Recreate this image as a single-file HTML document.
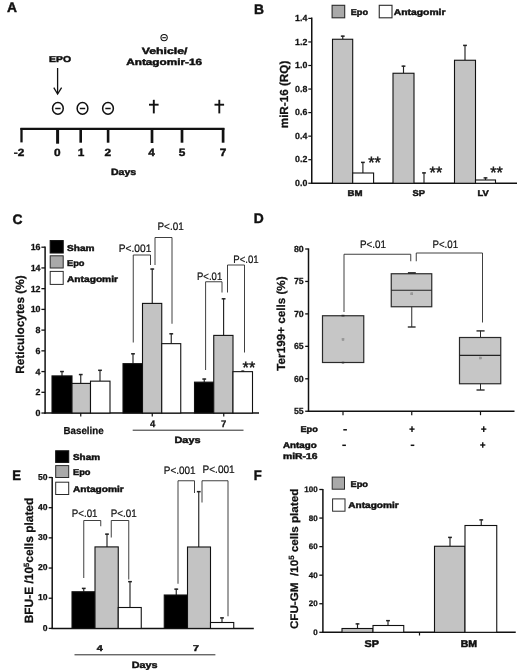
<!DOCTYPE html>
<html><head><meta charset="utf-8"><title>Figure</title>
<style>
html,body{margin:0;padding:0;background:#fff;}
svg{display:block;font-family:"Liberation Sans",sans-serif;text-rendering:geometricPrecision;filter:blur(0.4px);}
</style></head>
<body>
<svg width="520" height="671" viewBox="0 0 520 671">
<rect x="0" y="0" width="520" height="671" fill="#fff"/>
<text x="7" y="12.299999999999999" font-size="13.8" font-weight="bold" stroke="#111" stroke-width="0.45" fill="#111" >A</text>
<text x="49" y="62" font-size="8.55" font-weight="bold" stroke="#111" stroke-width="0.45" textLength="22" lengthAdjust="spacingAndGlyphs" fill="#111" >EPO</text>
<line x1="57.6" y1="68" x2="57.6" y2="93.5" stroke="#111" stroke-width="1.3" stroke-linecap="butt"/>
<path d="M53.8,87.6 L57.6,94 L61.6,87.6" fill="none" stroke="#111" stroke-width="1.3"/>
<ellipse cx="57.9" cy="108.4" rx="5.35" ry="5.8" fill="none" stroke="#111" stroke-width="1.5"/>
<line x1="55.199999999999996" y1="108.5" x2="60.6" y2="108.5" stroke="#111" stroke-width="1.5" stroke-linecap="butt"/>
<ellipse cx="82.5" cy="108.4" rx="5.35" ry="5.8" fill="none" stroke="#111" stroke-width="1.5"/>
<line x1="79.8" y1="108.5" x2="85.2" y2="108.5" stroke="#111" stroke-width="1.5" stroke-linecap="butt"/>
<ellipse cx="108" cy="108.4" rx="5.35" ry="5.8" fill="none" stroke="#111" stroke-width="1.5"/>
<line x1="105.3" y1="108.5" x2="110.7" y2="108.5" stroke="#111" stroke-width="1.5" stroke-linecap="butt"/>
<line x1="20.4" y1="128.8" x2="224.4" y2="128.8" stroke="#111" stroke-width="2.2" stroke-linecap="butt"/>
<line x1="21.5" y1="128" x2="21.5" y2="142.4" stroke="#111" stroke-width="2.3" stroke-linecap="butt"/>
<line x1="57.6" y1="128" x2="57.6" y2="143.7" stroke="#111" stroke-width="3.0" stroke-linecap="butt"/>
<line x1="80.7" y1="128" x2="80.7" y2="142.7" stroke="#111" stroke-width="2.6" stroke-linecap="butt"/>
<line x1="108.1" y1="128" x2="108.1" y2="142.7" stroke="#111" stroke-width="2.6" stroke-linecap="butt"/>
<line x1="152" y1="128" x2="152" y2="143" stroke="#111" stroke-width="2.7" stroke-linecap="butt"/>
<line x1="182" y1="128" x2="182" y2="142.7" stroke="#111" stroke-width="2.7" stroke-linecap="butt"/>
<line x1="223.1" y1="128" x2="223.1" y2="142.7" stroke="#111" stroke-width="2.7" stroke-linecap="butt"/>
<text x="19" y="155.8" font-size="10.5" font-weight="bold" stroke="#111" stroke-width="0.4" text-anchor="middle" textLength="10.5" lengthAdjust="spacingAndGlyphs" fill="#111" >-2</text>
<text x="57.2" y="155.8" font-size="10.5" font-weight="bold" stroke="#111" stroke-width="0.4" text-anchor="middle" textLength="6.6" lengthAdjust="spacingAndGlyphs" fill="#111" >0</text>
<text x="81" y="155.8" font-size="10.5" font-weight="bold" stroke="#111" stroke-width="0.4" text-anchor="middle" textLength="6.6" lengthAdjust="spacingAndGlyphs" fill="#111" >1</text>
<text x="107.8" y="155.8" font-size="10.5" font-weight="bold" stroke="#111" stroke-width="0.4" text-anchor="middle" textLength="6.6" lengthAdjust="spacingAndGlyphs" fill="#111" >2</text>
<text x="151.5" y="155.8" font-size="10.5" font-weight="bold" stroke="#111" stroke-width="0.4" text-anchor="middle" textLength="6.6" lengthAdjust="spacingAndGlyphs" fill="#111" >4</text>
<text x="182" y="155.8" font-size="10.5" font-weight="bold" stroke="#111" stroke-width="0.4" text-anchor="middle" textLength="6.6" lengthAdjust="spacingAndGlyphs" fill="#111" >5</text>
<text x="223" y="155.8" font-size="10.5" font-weight="bold" stroke="#111" stroke-width="0.4" text-anchor="middle" textLength="6.6" lengthAdjust="spacingAndGlyphs" fill="#111" >7</text>
<text x="111" y="174.5" font-size="9.0" font-weight="bold" stroke="#111" stroke-width="0.45" textLength="25.2" lengthAdjust="spacingAndGlyphs" fill="#111" >Days</text>
<line x1="153.8" y1="99.8" x2="153.8" y2="113.4" stroke="#111" stroke-width="1.9" stroke-linecap="butt"/>
<line x1="149.0" y1="104.7" x2="158.60000000000002" y2="104.7" stroke="#111" stroke-width="1.9" stroke-linecap="butt"/>
<line x1="219.3" y1="99.8" x2="219.3" y2="113.4" stroke="#111" stroke-width="1.9" stroke-linecap="butt"/>
<line x1="214.5" y1="104.7" x2="224.10000000000002" y2="104.7" stroke="#111" stroke-width="1.9" stroke-linecap="butt"/>
<circle cx="164.1" cy="37.6" r="3.15" fill="none" stroke="#111" stroke-width="1.1"/>
<line x1="162.3" y1="37.7" x2="165.9" y2="37.7" stroke="#111" stroke-width="1.1" stroke-linecap="butt"/>
<text x="141.75" y="53.6" font-size="9.0" font-weight="bold" stroke="#111" stroke-width="0.45" textLength="45.75" lengthAdjust="spacingAndGlyphs" fill="#111" >Vehicle/</text>
<text x="126.25" y="64.8" font-size="9.0" font-weight="bold" stroke="#111" stroke-width="0.45" textLength="75.75" lengthAdjust="spacingAndGlyphs" fill="#111" >Antagomir-16</text>
<text x="254" y="13.5" font-size="13.8" font-weight="bold" stroke="#111" stroke-width="0.45" fill="#111" >B</text>
<line x1="311.75" y1="17.4" x2="311.75" y2="183.95" stroke="#111" stroke-width="1.5" stroke-linecap="butt"/>
<line x1="311" y1="183.25" x2="517" y2="183.25" stroke="#111" stroke-width="1.5" stroke-linecap="butt"/>
<line x1="308.3" y1="18.4" x2="311.75" y2="18.4" stroke="#111" stroke-width="1.2" stroke-linecap="butt"/>
<text x="307.3" y="21.0" font-size="8.8" font-weight="bold" stroke="#111" stroke-width="0.25" text-anchor="end" fill="#111" >1.4</text>
<line x1="308.3" y1="41.95" x2="311.75" y2="41.95" stroke="#111" stroke-width="1.2" stroke-linecap="butt"/>
<text x="307.3" y="44.55" font-size="8.8" font-weight="bold" stroke="#111" stroke-width="0.25" text-anchor="end" fill="#111" >1.2</text>
<line x1="308.3" y1="65.5" x2="311.75" y2="65.5" stroke="#111" stroke-width="1.2" stroke-linecap="butt"/>
<text x="307.3" y="68.1" font-size="8.8" font-weight="bold" stroke="#111" stroke-width="0.25" text-anchor="end" fill="#111" >1.0</text>
<line x1="308.3" y1="89.05000000000001" x2="311.75" y2="89.05000000000001" stroke="#111" stroke-width="1.2" stroke-linecap="butt"/>
<text x="307.3" y="91.65" font-size="8.8" font-weight="bold" stroke="#111" stroke-width="0.25" text-anchor="end" fill="#111" >0.8</text>
<line x1="308.3" y1="112.6" x2="311.75" y2="112.6" stroke="#111" stroke-width="1.2" stroke-linecap="butt"/>
<text x="307.3" y="115.2" font-size="8.8" font-weight="bold" stroke="#111" stroke-width="0.25" text-anchor="end" fill="#111" >0.6</text>
<line x1="308.3" y1="136.15" x2="311.75" y2="136.15" stroke="#111" stroke-width="1.2" stroke-linecap="butt"/>
<text x="307.3" y="138.75" font-size="8.8" font-weight="bold" stroke="#111" stroke-width="0.25" text-anchor="end" fill="#111" >0.4</text>
<line x1="308.3" y1="159.70000000000002" x2="311.75" y2="159.70000000000002" stroke="#111" stroke-width="1.2" stroke-linecap="butt"/>
<text x="307.3" y="162.3" font-size="8.8" font-weight="bold" stroke="#111" stroke-width="0.25" text-anchor="end" fill="#111" >0.2</text>
<line x1="308.3" y1="183.25" x2="311.75" y2="183.25" stroke="#111" stroke-width="1.2" stroke-linecap="butt"/>
<text x="307.3" y="185.85" font-size="8.8" font-weight="bold" stroke="#111" stroke-width="0.25" text-anchor="end" fill="#111" >0.0</text>
<text transform="translate(288.2,94.5) rotate(-90)" font-size="11.7" font-weight="bold" text-anchor="middle" fill="#111" stroke="#111" stroke-width="0.25">miR-16 (RQ)</text>
<rect x="332.1" y="5.3" width="12.6" height="12.5" fill="#a9a9a9" stroke="#2a2a2a" stroke-width="1.1"/>
<text x="350.75" y="15" font-size="8.55" font-weight="bold" stroke="#111" stroke-width="0.45" textLength="17.25" lengthAdjust="spacingAndGlyphs" fill="#111" >Epo</text>
<rect x="379.25" y="5.3" width="12.75" height="12.5" fill="#fff" stroke="#2a2a2a" stroke-width="1.1"/>
<text x="393.75" y="15" font-size="8.55" font-weight="bold" stroke="#111" stroke-width="0.45" textLength="51.75" lengthAdjust="spacingAndGlyphs" fill="#111" >Antagomir</text>
<line x1="342.75" y1="39.25" x2="342.75" y2="35.75" stroke="#222" stroke-width="1.15" stroke-linecap="butt"/>
<line x1="340.85" y1="36.15" x2="344.65" y2="36.15" stroke="#222" stroke-width="1.5" stroke-linecap="butt"/>
<rect x="332.5" y="39.25" width="20.2" height="144.0" fill="#c3c3c3" stroke="#111" stroke-width="1.1"/>
<line x1="362.9" y1="173" x2="362.9" y2="162" stroke="#222" stroke-width="1.15" stroke-linecap="butt"/>
<line x1="361.0" y1="162.4" x2="364.79999999999995" y2="162.4" stroke="#222" stroke-width="1.5" stroke-linecap="butt"/>
<rect x="352.7" y="173" width="20.9" height="10.25" fill="#fff" stroke="#111" stroke-width="1.1"/>
<line x1="403.5" y1="73.25" x2="403.5" y2="65.75" stroke="#222" stroke-width="1.15" stroke-linecap="butt"/>
<line x1="401.6" y1="66.15" x2="405.4" y2="66.15" stroke="#222" stroke-width="1.5" stroke-linecap="butt"/>
<rect x="393" y="73.25" width="21" height="110.0" fill="#c3c3c3" stroke="#111" stroke-width="1.1"/>
<line x1="424" y1="183.25" x2="424" y2="172.5" stroke="#222" stroke-width="1.15" stroke-linecap="butt"/>
<line x1="422.1" y1="172.9" x2="425.9" y2="172.9" stroke="#222" stroke-width="1.5" stroke-linecap="butt"/>
<line x1="465" y1="60.25" x2="465" y2="45" stroke="#222" stroke-width="1.15" stroke-linecap="butt"/>
<line x1="463.1" y1="45.4" x2="466.9" y2="45.4" stroke="#222" stroke-width="1.5" stroke-linecap="butt"/>
<rect x="454.5" y="60.25" width="21.0" height="123.0" fill="#c3c3c3" stroke="#111" stroke-width="1.1"/>
<line x1="485.5" y1="180" x2="485.5" y2="177.5" stroke="#222" stroke-width="1.15" stroke-linecap="butt"/>
<line x1="483.6" y1="177.9" x2="487.4" y2="177.9" stroke="#222" stroke-width="1.5" stroke-linecap="butt"/>
<rect x="475.5" y="180" width="20.0" height="3.25" fill="#fff" stroke="#111" stroke-width="1.1"/>
<text x="368.2" y="168.3" font-size="16.5" stroke="#111" stroke-width="0.4" textLength="12.6" lengthAdjust="spacingAndGlyphs" fill="#111" >**</text>
<text x="429.6" y="177.8" font-size="16.5" stroke="#111" stroke-width="0.4" textLength="12.6" lengthAdjust="spacingAndGlyphs" fill="#111" >**</text>
<text x="490.2" y="178.3" font-size="16.5" stroke="#111" stroke-width="0.4" textLength="12.6" lengthAdjust="spacingAndGlyphs" fill="#111" >**</text>
<text x="347.5" y="195.6" font-size="8.55" font-weight="bold" stroke="#111" stroke-width="0.45" textLength="15" lengthAdjust="spacingAndGlyphs" fill="#111" >BM</text>
<text x="412.5" y="195.6" font-size="8.55" font-weight="bold" stroke="#111" stroke-width="0.45" textLength="12.5" lengthAdjust="spacingAndGlyphs" fill="#111" >SP</text>
<text x="477.5" y="195.6" font-size="8.55" font-weight="bold" stroke="#111" stroke-width="0.45" textLength="11.25" lengthAdjust="spacingAndGlyphs" fill="#111" >LV</text>
<text x="12.5" y="224.29999999999998" font-size="13.8" font-weight="bold" stroke="#111" stroke-width="0.45" fill="#111" >C</text>
<line x1="45.1" y1="246.6" x2="45.1" y2="413.7" stroke="#111" stroke-width="1.5" stroke-linecap="butt"/>
<line x1="44.3" y1="413.0" x2="259" y2="413.0" stroke="#111" stroke-width="1.5" stroke-linecap="butt"/>
<line x1="41.4" y1="247.2" x2="45" y2="247.2" stroke="#111" stroke-width="1.3" stroke-linecap="butt"/>
<text x="40.5" y="250.2" font-size="8.9" font-weight="bold" stroke="#111" stroke-width="0.25" text-anchor="end" fill="#111" >16</text>
<line x1="41.4" y1="267.93" x2="45" y2="267.93" stroke="#111" stroke-width="1.3" stroke-linecap="butt"/>
<text x="40.5" y="270.93" font-size="8.9" font-weight="bold" stroke="#111" stroke-width="0.25" text-anchor="end" fill="#111" >14</text>
<line x1="41.4" y1="288.65999999999997" x2="45" y2="288.65999999999997" stroke="#111" stroke-width="1.3" stroke-linecap="butt"/>
<text x="40.5" y="291.66" font-size="8.9" font-weight="bold" stroke="#111" stroke-width="0.25" text-anchor="end" fill="#111" >12</text>
<line x1="41.4" y1="309.39" x2="45" y2="309.39" stroke="#111" stroke-width="1.3" stroke-linecap="butt"/>
<text x="40.5" y="312.39" font-size="8.9" font-weight="bold" stroke="#111" stroke-width="0.25" text-anchor="end" fill="#111" >10</text>
<line x1="41.4" y1="330.12" x2="45" y2="330.12" stroke="#111" stroke-width="1.3" stroke-linecap="butt"/>
<text x="40.5" y="333.12" font-size="8.9" font-weight="bold" stroke="#111" stroke-width="0.25" text-anchor="end" fill="#111" >8</text>
<line x1="41.4" y1="350.85" x2="45" y2="350.85" stroke="#111" stroke-width="1.3" stroke-linecap="butt"/>
<text x="40.5" y="353.85" font-size="8.9" font-weight="bold" stroke="#111" stroke-width="0.25" text-anchor="end" fill="#111" >6</text>
<line x1="41.4" y1="371.58" x2="45" y2="371.58" stroke="#111" stroke-width="1.3" stroke-linecap="butt"/>
<text x="40.5" y="374.58" font-size="8.9" font-weight="bold" stroke="#111" stroke-width="0.25" text-anchor="end" fill="#111" >4</text>
<line x1="41.4" y1="392.31" x2="45" y2="392.31" stroke="#111" stroke-width="1.3" stroke-linecap="butt"/>
<text x="40.5" y="395.31" font-size="8.9" font-weight="bold" stroke="#111" stroke-width="0.25" text-anchor="end" fill="#111" >2</text>
<line x1="41.4" y1="413.03999999999996" x2="45" y2="413.03999999999996" stroke="#111" stroke-width="1.3" stroke-linecap="butt"/>
<text x="40.5" y="416.04" font-size="8.9" font-weight="bold" stroke="#111" stroke-width="0.25" text-anchor="end" fill="#111" >0</text>
<text transform="translate(24.3,324.6) rotate(-90)" font-size="11.8" font-weight="bold" text-anchor="middle" fill="#111" stroke="#111" stroke-width="0.25">Reticulocytes (%)</text>
<rect x="50.2" y="240.6" width="13.0" height="12.4" fill="#000" stroke="#111" stroke-width="1.1"/>
<rect x="50.2" y="255.8" width="13.0" height="12.2" fill="#a9a9a9" stroke="#2a2a2a" stroke-width="1.0"/>
<rect x="50.2" y="271.4" width="13.0" height="13.0" fill="#fff" stroke="#2a2a2a" stroke-width="1.0"/>
<text x="67" y="251.2" font-size="8.55" font-weight="bold" stroke="#111" stroke-width="0.45" textLength="27.5" lengthAdjust="spacingAndGlyphs" fill="#111" >Sham</text>
<text x="67" y="265.6" font-size="8.55" font-weight="bold" stroke="#111" stroke-width="0.45" textLength="17.5" lengthAdjust="spacingAndGlyphs" fill="#111" >Epo</text>
<text x="67" y="282" font-size="8.55" font-weight="bold" stroke="#111" stroke-width="0.45" textLength="51" lengthAdjust="spacingAndGlyphs" fill="#111" >Antagomir</text>
<line x1="62" y1="375.9" x2="62" y2="371.15" stroke="#222" stroke-width="1.15" stroke-linecap="butt"/>
<line x1="60.1" y1="371.54999999999995" x2="63.9" y2="371.54999999999995" stroke="#222" stroke-width="1.5" stroke-linecap="butt"/>
<rect x="52" y="375.9" width="20" height="37.1" fill="#000" stroke="#111" stroke-width="1.1"/>
<line x1="80.75" y1="383.4" x2="80.75" y2="374.15" stroke="#222" stroke-width="1.15" stroke-linecap="butt"/>
<line x1="78.85" y1="374.54999999999995" x2="82.65" y2="374.54999999999995" stroke="#222" stroke-width="1.5" stroke-linecap="butt"/>
<rect x="72" y="383.4" width="18.5" height="29.6" fill="#c3c3c3" stroke="#111" stroke-width="1.1"/>
<line x1="100" y1="381.15" x2="100" y2="369.9" stroke="#222" stroke-width="1.15" stroke-linecap="butt"/>
<line x1="98.1" y1="370.29999999999995" x2="101.9" y2="370.29999999999995" stroke="#222" stroke-width="1.5" stroke-linecap="butt"/>
<rect x="90.5" y="381.15" width="19.5" height="31.85" fill="#fff" stroke="#111" stroke-width="1.1"/>
<line x1="133" y1="363.65" x2="133" y2="353.4" stroke="#222" stroke-width="1.15" stroke-linecap="butt"/>
<line x1="131.1" y1="353.79999999999995" x2="134.9" y2="353.79999999999995" stroke="#222" stroke-width="1.5" stroke-linecap="butt"/>
<rect x="123" y="363.65" width="19.5" height="49.35" fill="#000" stroke="#111" stroke-width="1.1"/>
<line x1="152.25" y1="303.4" x2="152.25" y2="268.65" stroke="#222" stroke-width="1.15" stroke-linecap="butt"/>
<line x1="150.35" y1="269.04999999999995" x2="154.15" y2="269.04999999999995" stroke="#222" stroke-width="1.5" stroke-linecap="butt"/>
<rect x="142.5" y="303.4" width="19.25" height="109.6" fill="#c3c3c3" stroke="#111" stroke-width="1.1"/>
<line x1="171.25" y1="343.65" x2="171.25" y2="333.4" stroke="#222" stroke-width="1.15" stroke-linecap="butt"/>
<line x1="169.35" y1="333.79999999999995" x2="173.15" y2="333.79999999999995" stroke="#222" stroke-width="1.5" stroke-linecap="butt"/>
<rect x="161.75" y="343.65" width="19.0" height="69.35" fill="#fff" stroke="#111" stroke-width="1.1"/>
<line x1="204.25" y1="382.15" x2="204.25" y2="378.65" stroke="#222" stroke-width="1.15" stroke-linecap="butt"/>
<line x1="202.35" y1="379.04999999999995" x2="206.15" y2="379.04999999999995" stroke="#222" stroke-width="1.5" stroke-linecap="butt"/>
<rect x="194.5" y="382.15" width="19.25" height="30.85" fill="#000" stroke="#111" stroke-width="1.1"/>
<line x1="223.6" y1="335.4" x2="223.6" y2="298.4" stroke="#222" stroke-width="1.15" stroke-linecap="butt"/>
<line x1="221.7" y1="298.79999999999995" x2="225.5" y2="298.79999999999995" stroke="#222" stroke-width="1.5" stroke-linecap="butt"/>
<rect x="213.75" y="335.4" width="19.25" height="77.6" fill="#c3c3c3" stroke="#111" stroke-width="1.1"/>
<line x1="242.75" y1="371.65" x2="242.75" y2="370.79999999999995" stroke="#222" stroke-width="1.15" stroke-linecap="butt"/>
<line x1="241.25" y1="371.19999999999993" x2="244.25" y2="371.19999999999993" stroke="#222" stroke-width="1.5" stroke-linecap="butt"/>
<rect x="233" y="371.65" width="19.5" height="41.35" fill="#fff" stroke="#111" stroke-width="1.1"/>
<line x1="80.75" y1="413.0" x2="80.75" y2="416.6" stroke="#111" stroke-width="1.2" stroke-linecap="butt"/>
<line x1="152.25" y1="413.0" x2="152.25" y2="416.6" stroke="#111" stroke-width="1.2" stroke-linecap="butt"/>
<line x1="223.75" y1="413.0" x2="223.75" y2="416.6" stroke="#111" stroke-width="1.2" stroke-linecap="butt"/>
<text x="63.6" y="433.6" font-size="10.1" font-weight="bold" stroke="#111" stroke-width="0.25" textLength="40" lengthAdjust="spacingAndGlyphs" fill="#111" >Baseline</text>
<text x="152.75" y="427" font-size="9.5" font-weight="bold" stroke="#111" stroke-width="0.25" text-anchor="middle" fill="#111" >4</text>
<text x="223.75" y="427" font-size="9.5" font-weight="bold" stroke="#111" stroke-width="0.25" text-anchor="middle" fill="#111" >7</text>
<line x1="132.7" y1="430.2" x2="243.5" y2="430.2" stroke="#2a2a2a" stroke-width="1.0" stroke-linecap="butt"/>
<text x="174.5" y="442.7" font-size="9.0" font-weight="bold" stroke="#111" stroke-width="0.45" textLength="26" lengthAdjust="spacingAndGlyphs" fill="#111" >Days</text>
<path d="M133.25,342.5 V255 H150.5 V265" fill="none" stroke="#2a2a2a" stroke-width="0.9"/>
<path d="M155,265 V237.5 H172 V323.75" fill="none" stroke="#2a2a2a" stroke-width="0.9"/>
<path d="M205.6,370 V281.75 H222 V292.5" fill="none" stroke="#2a2a2a" stroke-width="0.9"/>
<path d="M227.5,292.5 V265 H244.5 V352.5" fill="none" stroke="#2a2a2a" stroke-width="0.9"/>
<text x="118.75" y="252" font-size="10.8" stroke="#111" stroke-width="0.22" textLength="32.6" lengthAdjust="spacingAndGlyphs" fill="#111" >P&lt;.001</text>
<text x="157.5" y="230" font-size="10.8" stroke="#111" stroke-width="0.22" textLength="26.2" lengthAdjust="spacingAndGlyphs" fill="#111" >P&lt;.01</text>
<text x="197" y="279.5" font-size="10.8" stroke="#111" stroke-width="0.22" textLength="25.2" lengthAdjust="spacingAndGlyphs" fill="#111" >P&lt;.01</text>
<text x="233.25" y="263.2" font-size="10.8" stroke="#111" stroke-width="0.22" textLength="25.4" lengthAdjust="spacingAndGlyphs" fill="#111" >P&lt;.01</text>
<text x="242.6" y="372.6" font-size="16.5" stroke="#111" stroke-width="0.4" textLength="12.6" lengthAdjust="spacingAndGlyphs" fill="#111" >**</text>
<text x="253.75" y="222.7" font-size="13.8" font-weight="bold" stroke="#111" stroke-width="0.45" fill="#111" >D</text>
<line x1="308.5" y1="248.4" x2="308.5" y2="411.95" stroke="#111" stroke-width="1.5" stroke-linecap="butt"/>
<line x1="307.8" y1="411.25" x2="514.5" y2="411.25" stroke="#111" stroke-width="1.5" stroke-linecap="butt"/>
<line x1="305.2" y1="249.0" x2="308.5" y2="249.0" stroke="#111" stroke-width="1.3" stroke-linecap="butt"/>
<text x="303.7" y="251.7" font-size="8.8" font-weight="bold" stroke="#111" stroke-width="0.25" text-anchor="end" fill="#111" >80</text>
<line x1="305.2" y1="281.45" x2="308.5" y2="281.45" stroke="#111" stroke-width="1.3" stroke-linecap="butt"/>
<text x="303.7" y="284.15" font-size="8.8" font-weight="bold" stroke="#111" stroke-width="0.25" text-anchor="end" fill="#111" >75</text>
<line x1="305.2" y1="313.9" x2="308.5" y2="313.9" stroke="#111" stroke-width="1.3" stroke-linecap="butt"/>
<text x="303.7" y="316.6" font-size="8.8" font-weight="bold" stroke="#111" stroke-width="0.25" text-anchor="end" fill="#111" >70</text>
<line x1="305.2" y1="346.35" x2="308.5" y2="346.35" stroke="#111" stroke-width="1.3" stroke-linecap="butt"/>
<text x="303.7" y="349.05" font-size="8.8" font-weight="bold" stroke="#111" stroke-width="0.25" text-anchor="end" fill="#111" >65</text>
<line x1="305.2" y1="378.8" x2="308.5" y2="378.8" stroke="#111" stroke-width="1.3" stroke-linecap="butt"/>
<text x="303.7" y="381.5" font-size="8.8" font-weight="bold" stroke="#111" stroke-width="0.25" text-anchor="end" fill="#111" >60</text>
<line x1="305.2" y1="411.25" x2="308.5" y2="411.25" stroke="#111" stroke-width="1.3" stroke-linecap="butt"/>
<text x="303.7" y="413.95" font-size="8.8" font-weight="bold" stroke="#111" stroke-width="0.25" text-anchor="end" fill="#111" >55</text>
<line x1="343" y1="411.25" x2="343" y2="415.2" stroke="#111" stroke-width="1.2" stroke-linecap="butt"/>
<line x1="411.75" y1="411.25" x2="411.75" y2="415.2" stroke="#111" stroke-width="1.2" stroke-linecap="butt"/>
<line x1="480.5" y1="411.25" x2="480.5" y2="415.2" stroke="#111" stroke-width="1.2" stroke-linecap="butt"/>
<text transform="translate(285.3,323.5) rotate(-90)" font-size="11.7" font-weight="bold" text-anchor="middle" fill="#111" stroke="#111" stroke-width="0.25">Ter199+ cells (%)</text>
<rect x="322.5" y="315.75" width="41.25" height="46.75" fill="#c6c6c6" stroke="#2a2a2a" stroke-width="1.2"/>
<line x1="341.5" y1="315.6" x2="344.5" y2="315.6" stroke="#2a2a2a" stroke-width="1.6" stroke-linecap="butt"/>
<line x1="341.8" y1="362.6" x2="344.2" y2="362.6" stroke="#2a2a2a" stroke-width="1.6" stroke-linecap="butt"/>
<rect x="342" y="338.5" width="2" height="2" fill="#9a9a9a" stroke="#8c8c8c" stroke-width="0.5"/>
<line x1="411.75" y1="306.75" x2="411.75" y2="327" stroke="#2a2a2a" stroke-width="1.0" stroke-linecap="butt"/>
<line x1="407.8" y1="327" x2="415.6" y2="327" stroke="#2a2a2a" stroke-width="1.4" stroke-linecap="butt"/>
<line x1="407.9" y1="273.1" x2="415.8" y2="273.1" stroke="#2a2a2a" stroke-width="2.0" stroke-linecap="butt"/>
<rect x="391.25" y="273.75" width="40.5" height="33.0" fill="#c6c6c6" stroke="#2a2a2a" stroke-width="1.2"/>
<line x1="391.25" y1="290.2" x2="431.75" y2="290.2" stroke="#222" stroke-width="1.1" stroke-linecap="butt"/>
<rect x="410.75" y="292.75" width="2" height="2" fill="#9a9a9a" stroke="#8c8c8c" stroke-width="0.5"/>
<line x1="480.5" y1="330.75" x2="480.5" y2="390" stroke="#2a2a2a" stroke-width="1.0" stroke-linecap="butt"/>
<line x1="476.5" y1="330.9" x2="484.6" y2="330.9" stroke="#2a2a2a" stroke-width="1.4" stroke-linecap="butt"/>
<line x1="476.5" y1="390" x2="484.6" y2="390" stroke="#2a2a2a" stroke-width="1.4" stroke-linecap="butt"/>
<rect x="459.5" y="337.5" width="41.25" height="46.25" fill="#c6c6c6" stroke="#2a2a2a" stroke-width="1.2"/>
<line x1="459.5" y1="355.4" x2="500.75" y2="355.4" stroke="#222" stroke-width="1.1" stroke-linecap="butt"/>
<rect x="479.5" y="357" width="2" height="2" fill="#9a9a9a" stroke="#8c8c8c" stroke-width="0.5"/>
<path d="M344,312 V254.25 H410.75 V261.25" fill="none" stroke="#2a2a2a" stroke-width="0.9"/>
<path d="M416.25,261.25 V253 H482.5 V322.5" fill="none" stroke="#2a2a2a" stroke-width="0.9"/>
<text x="360" y="247.5" font-size="10.8" stroke="#111" stroke-width="0.22" textLength="26" lengthAdjust="spacingAndGlyphs" fill="#111" >P&lt;.01</text>
<text x="432.5" y="247.5" font-size="10.8" stroke="#111" stroke-width="0.22" textLength="25.6" lengthAdjust="spacingAndGlyphs" fill="#111" >P&lt;.01</text>
<text x="300.5" y="431.6" font-size="8.55" font-weight="bold" stroke="#111" stroke-width="0.45" textLength="17.25" lengthAdjust="spacingAndGlyphs" fill="#111" >Epo</text>
<text x="283" y="447.6" font-size="8.55" font-weight="bold" stroke="#111" stroke-width="0.45" textLength="33.75" lengthAdjust="spacingAndGlyphs" fill="#111" >Antago</text>
<text x="283" y="458.8" font-size="8.55" font-weight="bold" stroke="#111" stroke-width="0.45" textLength="34.5" lengthAdjust="spacingAndGlyphs" fill="#111" >miR-16</text>
<line x1="343.3" y1="429.8" x2="346.90000000000003" y2="429.8" stroke="#111" stroke-width="1.5" stroke-linecap="butt"/>
<line x1="409.4" y1="429.1" x2="414.6" y2="429.1" stroke="#111" stroke-width="1.4" stroke-linecap="butt"/>
<line x1="412" y1="426.3" x2="412" y2="431.90000000000003" stroke="#111" stroke-width="1.4" stroke-linecap="butt"/>
<line x1="481.15" y1="429.1" x2="486.35" y2="429.1" stroke="#111" stroke-width="1.4" stroke-linecap="butt"/>
<line x1="483.75" y1="426.3" x2="483.75" y2="431.90000000000003" stroke="#111" stroke-width="1.4" stroke-linecap="butt"/>
<line x1="342.3" y1="445.3" x2="345.90000000000003" y2="445.3" stroke="#111" stroke-width="1.5" stroke-linecap="butt"/>
<line x1="410.7" y1="445.3" x2="414.3" y2="445.3" stroke="#111" stroke-width="1.5" stroke-linecap="butt"/>
<line x1="480.15" y1="445" x2="485.35" y2="445" stroke="#111" stroke-width="1.4" stroke-linecap="butt"/>
<line x1="482.75" y1="442.2" x2="482.75" y2="447.8" stroke="#111" stroke-width="1.4" stroke-linecap="butt"/>
<text x="12.3" y="479.8" font-size="13.8" font-weight="bold" stroke="#111" stroke-width="0.45" textLength="8.7" lengthAdjust="spacingAndGlyphs" fill="#111" >E</text>
<line x1="52.2" y1="476.9" x2="52.2" y2="629.1" stroke="#111" stroke-width="1.5" stroke-linecap="butt"/>
<line x1="51.5" y1="628.4" x2="253.8" y2="628.4" stroke="#111" stroke-width="1.5" stroke-linecap="butt"/>
<line x1="48.7" y1="477.5" x2="52.2" y2="477.5" stroke="#111" stroke-width="1.3" stroke-linecap="butt"/>
<text x="47.5" y="479.7" font-size="8.6" font-weight="bold" stroke="#111" stroke-width="0.25" text-anchor="end" fill="#111" >50</text>
<line x1="48.7" y1="507.68" x2="52.2" y2="507.68" stroke="#111" stroke-width="1.3" stroke-linecap="butt"/>
<text x="47.5" y="509.88" font-size="8.6" font-weight="bold" stroke="#111" stroke-width="0.25" text-anchor="end" fill="#111" >40</text>
<line x1="48.7" y1="537.86" x2="52.2" y2="537.86" stroke="#111" stroke-width="1.3" stroke-linecap="butt"/>
<text x="47.5" y="540.06" font-size="8.6" font-weight="bold" stroke="#111" stroke-width="0.25" text-anchor="end" fill="#111" >30</text>
<line x1="48.7" y1="568.04" x2="52.2" y2="568.04" stroke="#111" stroke-width="1.3" stroke-linecap="butt"/>
<text x="47.5" y="570.24" font-size="8.6" font-weight="bold" stroke="#111" stroke-width="0.25" text-anchor="end" fill="#111" >20</text>
<line x1="48.7" y1="598.22" x2="52.2" y2="598.22" stroke="#111" stroke-width="1.3" stroke-linecap="butt"/>
<text x="47.5" y="600.42" font-size="8.6" font-weight="bold" stroke="#111" stroke-width="0.25" text-anchor="end" fill="#111" >10</text>
<line x1="48.7" y1="628.4" x2="52.2" y2="628.4" stroke="#111" stroke-width="1.3" stroke-linecap="butt"/>
<text x="47.5" y="630.6" font-size="8.6" font-weight="bold" stroke="#111" stroke-width="0.25" text-anchor="end" fill="#111" >0</text>
<text transform="translate(33.4,560.5) rotate(-90)" font-size="11.95" font-weight="bold" text-anchor="middle" fill="#111" stroke="#111" stroke-width="0.25">BFU-E /10<tspan font-size="7.5" dy="-4.2">5</tspan><tspan dy="4.2">cells plated</tspan></text>
<rect x="55.7" y="450.8" width="13.0" height="11.6" fill="#000" stroke="#111" stroke-width="1.1"/>
<rect x="55.7" y="465.6" width="13.0" height="11.9" fill="#a9a9a9" stroke="#2a2a2a" stroke-width="1.0"/>
<rect x="55.7" y="482.2" width="13.0" height="12.3" fill="#fff" stroke="#2a2a2a" stroke-width="1.0"/>
<text x="73" y="460.4" font-size="8.55" font-weight="bold" stroke="#111" stroke-width="0.45" textLength="27" lengthAdjust="spacingAndGlyphs" fill="#111" >Sham</text>
<text x="73" y="474.8" font-size="8.55" font-weight="bold" stroke="#111" stroke-width="0.45" textLength="17.5" lengthAdjust="spacingAndGlyphs" fill="#111" >Epo</text>
<text x="73" y="492" font-size="8.55" font-weight="bold" stroke="#111" stroke-width="0.45" textLength="50.75" lengthAdjust="spacingAndGlyphs" fill="#111" >Antagomir</text>
<line x1="83.75" y1="591.75" x2="83.75" y2="588" stroke="#222" stroke-width="1.15" stroke-linecap="butt"/>
<line x1="81.85" y1="588.4" x2="85.65" y2="588.4" stroke="#222" stroke-width="1.5" stroke-linecap="butt"/>
<rect x="72" y="591.75" width="23" height="36.65" fill="#000" stroke="#111" stroke-width="1.1"/>
<line x1="107" y1="546.9" x2="107" y2="533.75" stroke="#222" stroke-width="1.15" stroke-linecap="butt"/>
<line x1="105.1" y1="534.15" x2="108.9" y2="534.15" stroke="#222" stroke-width="1.5" stroke-linecap="butt"/>
<rect x="95" y="546.9" width="23.25" height="81.5" fill="#c3c3c3" stroke="#111" stroke-width="1.1"/>
<line x1="130" y1="607.5" x2="130" y2="581.25" stroke="#222" stroke-width="1.15" stroke-linecap="butt"/>
<line x1="128.1" y1="581.65" x2="131.9" y2="581.65" stroke="#222" stroke-width="1.5" stroke-linecap="butt"/>
<rect x="118.25" y="607.5" width="23.0" height="20.9" fill="#fff" stroke="#111" stroke-width="1.1"/>
<line x1="176.25" y1="595" x2="176.25" y2="588.75" stroke="#222" stroke-width="1.15" stroke-linecap="butt"/>
<line x1="174.35" y1="589.15" x2="178.15" y2="589.15" stroke="#222" stroke-width="1.5" stroke-linecap="butt"/>
<rect x="164.25" y="595" width="23.25" height="33.4" fill="#000" stroke="#111" stroke-width="1.1"/>
<line x1="198.75" y1="547" x2="198.75" y2="491.25" stroke="#222" stroke-width="1.15" stroke-linecap="butt"/>
<line x1="196.85" y1="491.65" x2="200.65" y2="491.65" stroke="#222" stroke-width="1.5" stroke-linecap="butt"/>
<rect x="187.5" y="547" width="23.0" height="81.4" fill="#c3c3c3" stroke="#111" stroke-width="1.1"/>
<line x1="222" y1="622.5" x2="222" y2="617.5" stroke="#222" stroke-width="1.15" stroke-linecap="butt"/>
<line x1="220.1" y1="617.9" x2="223.9" y2="617.9" stroke="#222" stroke-width="1.5" stroke-linecap="butt"/>
<rect x="210.5" y="622.5" width="23.25" height="5.9" fill="#fff" stroke="#111" stroke-width="1.1"/>
<path d="M83.75,578 V520.5 H100.75 V526.25" fill="none" stroke="#2a2a2a" stroke-width="0.9"/>
<path d="M111.25,537.5 V520.5 H128.75 V579.5" fill="none" stroke="#2a2a2a" stroke-width="0.9"/>
<path d="M178,583.75 V480.75 H194.5 V493" fill="none" stroke="#2a2a2a" stroke-width="0.9"/>
<path d="M202,502.5 V480.75 H228 V616.25" fill="none" stroke="#2a2a2a" stroke-width="0.9"/>
<text x="71.75" y="517.1" font-size="10.8" stroke="#111" stroke-width="0.22" textLength="25.8" lengthAdjust="spacingAndGlyphs" fill="#111" >P&lt;.01</text>
<text x="110.75" y="517.3" font-size="10.8" stroke="#111" stroke-width="0.22" textLength="26" lengthAdjust="spacingAndGlyphs" fill="#111" >P&lt;.01</text>
<text x="163.75" y="473.8" font-size="10.8" stroke="#111" stroke-width="0.22" textLength="31.8" lengthAdjust="spacingAndGlyphs" fill="#111" >P&lt;.001</text>
<text x="202.5" y="473.2" font-size="10.8" stroke="#111" stroke-width="0.22" textLength="32.2" lengthAdjust="spacingAndGlyphs" fill="#111" >P&lt;.001</text>
<text x="99.75" y="651.2" font-size="8.55" font-weight="bold" stroke="#111" stroke-width="0.45" text-anchor="middle" textLength="6" lengthAdjust="spacingAndGlyphs" fill="#111" >4</text>
<text x="196.1" y="651.2" font-size="8.55" font-weight="bold" stroke="#111" stroke-width="0.45" text-anchor="middle" textLength="6" lengthAdjust="spacingAndGlyphs" fill="#111" >7</text>
<line x1="74.5" y1="654.8" x2="215.4" y2="654.8" stroke="#2a2a2a" stroke-width="1.0" stroke-linecap="butt"/>
<text x="131.7" y="668.2" font-size="9.0" font-weight="bold" stroke="#111" stroke-width="0.45" textLength="25.8" lengthAdjust="spacingAndGlyphs" fill="#111" >Days</text>
<text x="253.75" y="479.7" font-size="13.8" font-weight="bold" stroke="#111" stroke-width="0.45" textLength="8.0" lengthAdjust="spacingAndGlyphs" fill="#111" >F</text>
<line x1="322.9" y1="488.9" x2="322.9" y2="633.0" stroke="#111" stroke-width="1.5" stroke-linecap="butt"/>
<line x1="322.2" y1="632.3" x2="515.75" y2="632.3" stroke="#111" stroke-width="1.5" stroke-linecap="butt"/>
<line x1="319.3" y1="489.5" x2="322.9" y2="489.5" stroke="#111" stroke-width="1.3" stroke-linecap="butt"/>
<text x="317.7" y="492.1" font-size="8.0" font-weight="bold" stroke="#111" stroke-width="0.25" text-anchor="end" fill="#111" >100</text>
<line x1="319.3" y1="518.06" x2="322.9" y2="518.06" stroke="#111" stroke-width="1.3" stroke-linecap="butt"/>
<text x="317.7" y="520.66" font-size="8.0" font-weight="bold" stroke="#111" stroke-width="0.25" text-anchor="end" fill="#111" >80</text>
<line x1="319.3" y1="546.62" x2="322.9" y2="546.62" stroke="#111" stroke-width="1.3" stroke-linecap="butt"/>
<text x="317.7" y="549.22" font-size="8.0" font-weight="bold" stroke="#111" stroke-width="0.25" text-anchor="end" fill="#111" >60</text>
<line x1="319.3" y1="575.18" x2="322.9" y2="575.18" stroke="#111" stroke-width="1.3" stroke-linecap="butt"/>
<text x="317.7" y="577.78" font-size="8.0" font-weight="bold" stroke="#111" stroke-width="0.25" text-anchor="end" fill="#111" >40</text>
<line x1="319.3" y1="603.74" x2="322.9" y2="603.74" stroke="#111" stroke-width="1.3" stroke-linecap="butt"/>
<text x="317.7" y="606.34" font-size="8.0" font-weight="bold" stroke="#111" stroke-width="0.25" text-anchor="end" fill="#111" >20</text>
<line x1="319.3" y1="632.3" x2="322.9" y2="632.3" stroke="#111" stroke-width="1.3" stroke-linecap="butt"/>
<text x="317.7" y="634.9" font-size="8.0" font-weight="bold" stroke="#111" stroke-width="0.25" text-anchor="end" fill="#111" >0</text>
<text transform="translate(297.8,558.9) rotate(-90)" font-size="11" textLength="140.4" lengthAdjust="spacingAndGlyphs" font-weight="bold" text-anchor="middle" fill="#111" stroke="#111" stroke-width="0.25">CFU-GM&#160; /10<tspan font-size="7.5" dy="-4.2">5</tspan><tspan dy="4.2"> cells plated</tspan></text>
<rect x="332.2" y="477.1" width="12.3" height="12.1" fill="#a9a9a9" stroke="#2a2a2a" stroke-width="1.0"/>
<rect x="332.6" y="498.9" width="12.4" height="12.3" fill="#fff" stroke="#2a2a2a" stroke-width="1.0"/>
<text x="350.5" y="487" font-size="8.55" font-weight="bold" stroke="#111" stroke-width="0.45" textLength="17.5" lengthAdjust="spacingAndGlyphs" fill="#111" >Epo</text>
<text x="348.25" y="508.3" font-size="8.55" font-weight="bold" stroke="#111" stroke-width="0.45" textLength="50.5" lengthAdjust="spacingAndGlyphs" fill="#111" >Antagomir</text>
<line x1="357.5" y1="628.5" x2="357.5" y2="623.5" stroke="#222" stroke-width="1.15" stroke-linecap="butt"/>
<line x1="355.6" y1="623.9" x2="359.4" y2="623.9" stroke="#222" stroke-width="1.5" stroke-linecap="butt"/>
<rect x="342" y="628.5" width="31" height="3.8" fill="#c3c3c3" stroke="#111" stroke-width="1.1"/>
<line x1="388" y1="625.5" x2="388" y2="620.25" stroke="#222" stroke-width="1.15" stroke-linecap="butt"/>
<line x1="386.1" y1="620.65" x2="389.9" y2="620.65" stroke="#222" stroke-width="1.5" stroke-linecap="butt"/>
<rect x="373" y="625.5" width="30.75" height="6.8" fill="#fff" stroke="#111" stroke-width="1.1"/>
<line x1="450" y1="546.25" x2="450" y2="537" stroke="#222" stroke-width="1.15" stroke-linecap="butt"/>
<line x1="448.1" y1="537.4" x2="451.9" y2="537.4" stroke="#222" stroke-width="1.5" stroke-linecap="butt"/>
<rect x="434.5" y="546.25" width="30.5" height="86.05" fill="#c3c3c3" stroke="#111" stroke-width="1.1"/>
<line x1="481.25" y1="525.5" x2="481.25" y2="519.5" stroke="#222" stroke-width="1.15" stroke-linecap="butt"/>
<line x1="479.35" y1="519.9" x2="483.15" y2="519.9" stroke="#222" stroke-width="1.5" stroke-linecap="butt"/>
<rect x="465" y="525.5" width="31.75" height="106.8" fill="#fff" stroke="#111" stroke-width="1.1"/>
<line x1="419.5" y1="632.3" x2="419.5" y2="635.5" stroke="#111" stroke-width="1.2" stroke-linecap="butt"/>
<text x="364.5" y="647.2" font-size="9.8" font-weight="bold" stroke="#111" stroke-width="0.55" textLength="14.3" lengthAdjust="spacingAndGlyphs" fill="#111" >SP</text>
<text x="460.75" y="647.2" font-size="9.8" font-weight="bold" stroke="#111" stroke-width="0.55" textLength="16.3" lengthAdjust="spacingAndGlyphs" fill="#111" >BM</text>
</svg>
</body></html>
